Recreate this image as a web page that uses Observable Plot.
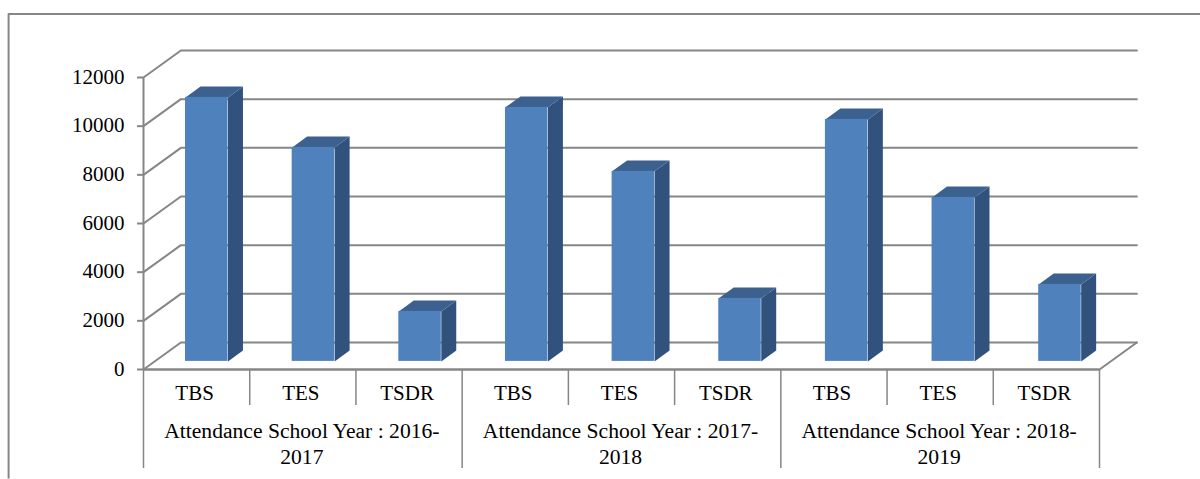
<!DOCTYPE html>
<html>
<head>
<meta charset="utf-8">
<style>html,body{margin:0;padding:0;background:#fff;overflow:hidden}svg{display:block}</style>
<script src="https://cdn.jsdelivr.net/npm/d3@7"></script>
<script src="https://cdn.jsdelivr.net/npm/@observablehq/plot@0.6"></script>
</head>
<body>
<div id="chart"></div>
<script>
const years = ["Attendance School Year : 2016-\n2017", "Attendance School Year : 2017-\n2018", "Attendance School Year : 2018-\n2019"];
const categories = ["TBS", "TES", "TSDR"];
const values = [10850, 8795, 2055, 10440, 7810, 2590, 9945, 6740, 3165];
const yTicks = [0, 2000, 4000, 6000, 8000, 10000, 12000];

// Oblique projection of the chart's 3D box, in data units
const depthX = 0.352, depthY = 1110;
const barWidth = 0.4, barStart = 0.29, barStep = 1.004, barDepth0 = 0.3, barDepth1 = 0.7;
const gray = "#868686", font = "Liberation Serif", fs = 21;

const slots = values.map((v, i) => ({
  i, v,
  name: categories[i % 3],
  x0: barStart + i * barStep,
  x1: barStart + i * barStep + barWidth
}));
const pt = (id, x, v, d) => ({id, x: x + d * depthX, y: v + d * depthY});
const sideFaces = slots.flatMap(s => [
  pt(s.i, s.x1, s.v, barDepth0), pt(s.i, s.x1, s.v, barDepth1),
  pt(s.i, s.x1, 0, barDepth1), pt(s.i, s.x1, 0, barDepth0)
]);
const topFaces = slots.flatMap(s => [
  pt(s.i, s.x0, s.v, barDepth0), pt(s.i, s.x1, s.v, barDepth0),
  pt(s.i, s.x1, s.v, barDepth1), pt(s.i, s.x0, s.v, barDepth1)
]);
const wall = yTicks.flatMap(t => [pt(t, 0, t, 0), pt(t, 0, t, 1), pt(t, 9, t, 1)]);
const floorEdge = [pt("f", 9, 0, 1), pt("f", 9, 0, 0)];

const plot = Plot.plot({
  width: 1200, height: 479,
  marginLeft: 143, marginRight: 101, marginTop: 77, marginBottom: 110,
  style: {background: "#fff", fontFamily: font},
  x: {type: "linear", domain: [0, 9], axis: null},
  y: {type: "linear", domain: [0, 12000], axis: null},
  marks: [
    // outer chart-area border
    Plot.ruleY([14610], {x1: -1.27, x2: 10.1, stroke: gray, strokeWidth: 2}),
    Plot.ruleX([-1.27], {y1: 14610, y2: -4500, stroke: gray, strokeWidth: 2}),
    // walls, gridlines
    Plot.line(wall, {x: "x", y: "y", z: "id", stroke: gray, strokeWidth: 2}),
    Plot.line(floorEdge, {x: "x", y: "y", z: "id", stroke: gray, strokeWidth: 2}),
    Plot.ruleX([0], {y1: 0, y2: 12000, stroke: gray, strokeWidth: 2}),
    Plot.ruleY([0], {x1: 0, x2: 9, stroke: gray, strokeWidth: 2.5}),
    Plot.axisY({ticks: yTicks, tickFormat: d3.format("d"), tickSize: 0, tickPadding: 19, fill: "#000",
      fontSize: fs, dy: -0.5, label: null}),
    Plot.ruleY(yTicks, {x1: -0.056, x2: 0, stroke: gray, strokeWidth: 2}),
    // category table lines
    Plot.ruleX(d3.range(0, 10), {y1: 0, y2: -1480, stroke: gray, strokeWidth: 1.5}),
    Plot.ruleX([0, 3, 6, 9], {y1: -1480, y2: -4070, stroke: gray, strokeWidth: 1.5}),
    // bars
    Plot.line(sideFaces, {x: "x", y: "y", z: "id", fill: "#31527c", stroke: "none", curve: "linear-closed"}),
    Plot.line(topFaces, {x: "x", y: "y", z: "id", fill: "#3c618f", stroke: "none", curve: "linear-closed"}),
    Plot.rect(slots, {
      x1: d => d.x0 + barDepth0 * depthX, x2: d => d.x1 + barDepth0 * depthX,
      y1: barDepth0 * depthY, y2: d => d.v + barDepth0 * depthY,
      fill: "#4f81bd"
    }),
    // labels
    Plot.text(slots, {x: d => d.i + 0.5, y: 0, text: "name", dx: -2, dy: 24, fontSize: fs, fill: "#000"}),
    Plot.text(years, {x: (d, i) => 3 * i + 1.5, y: 0, text: d => d, dx: -1, dy: 73, lineHeight: 1.2, fontSize: 21.6, fill: "#000"})
  ]
});
document.getElementById("chart").append(plot);
</script>
</body>
</html>
